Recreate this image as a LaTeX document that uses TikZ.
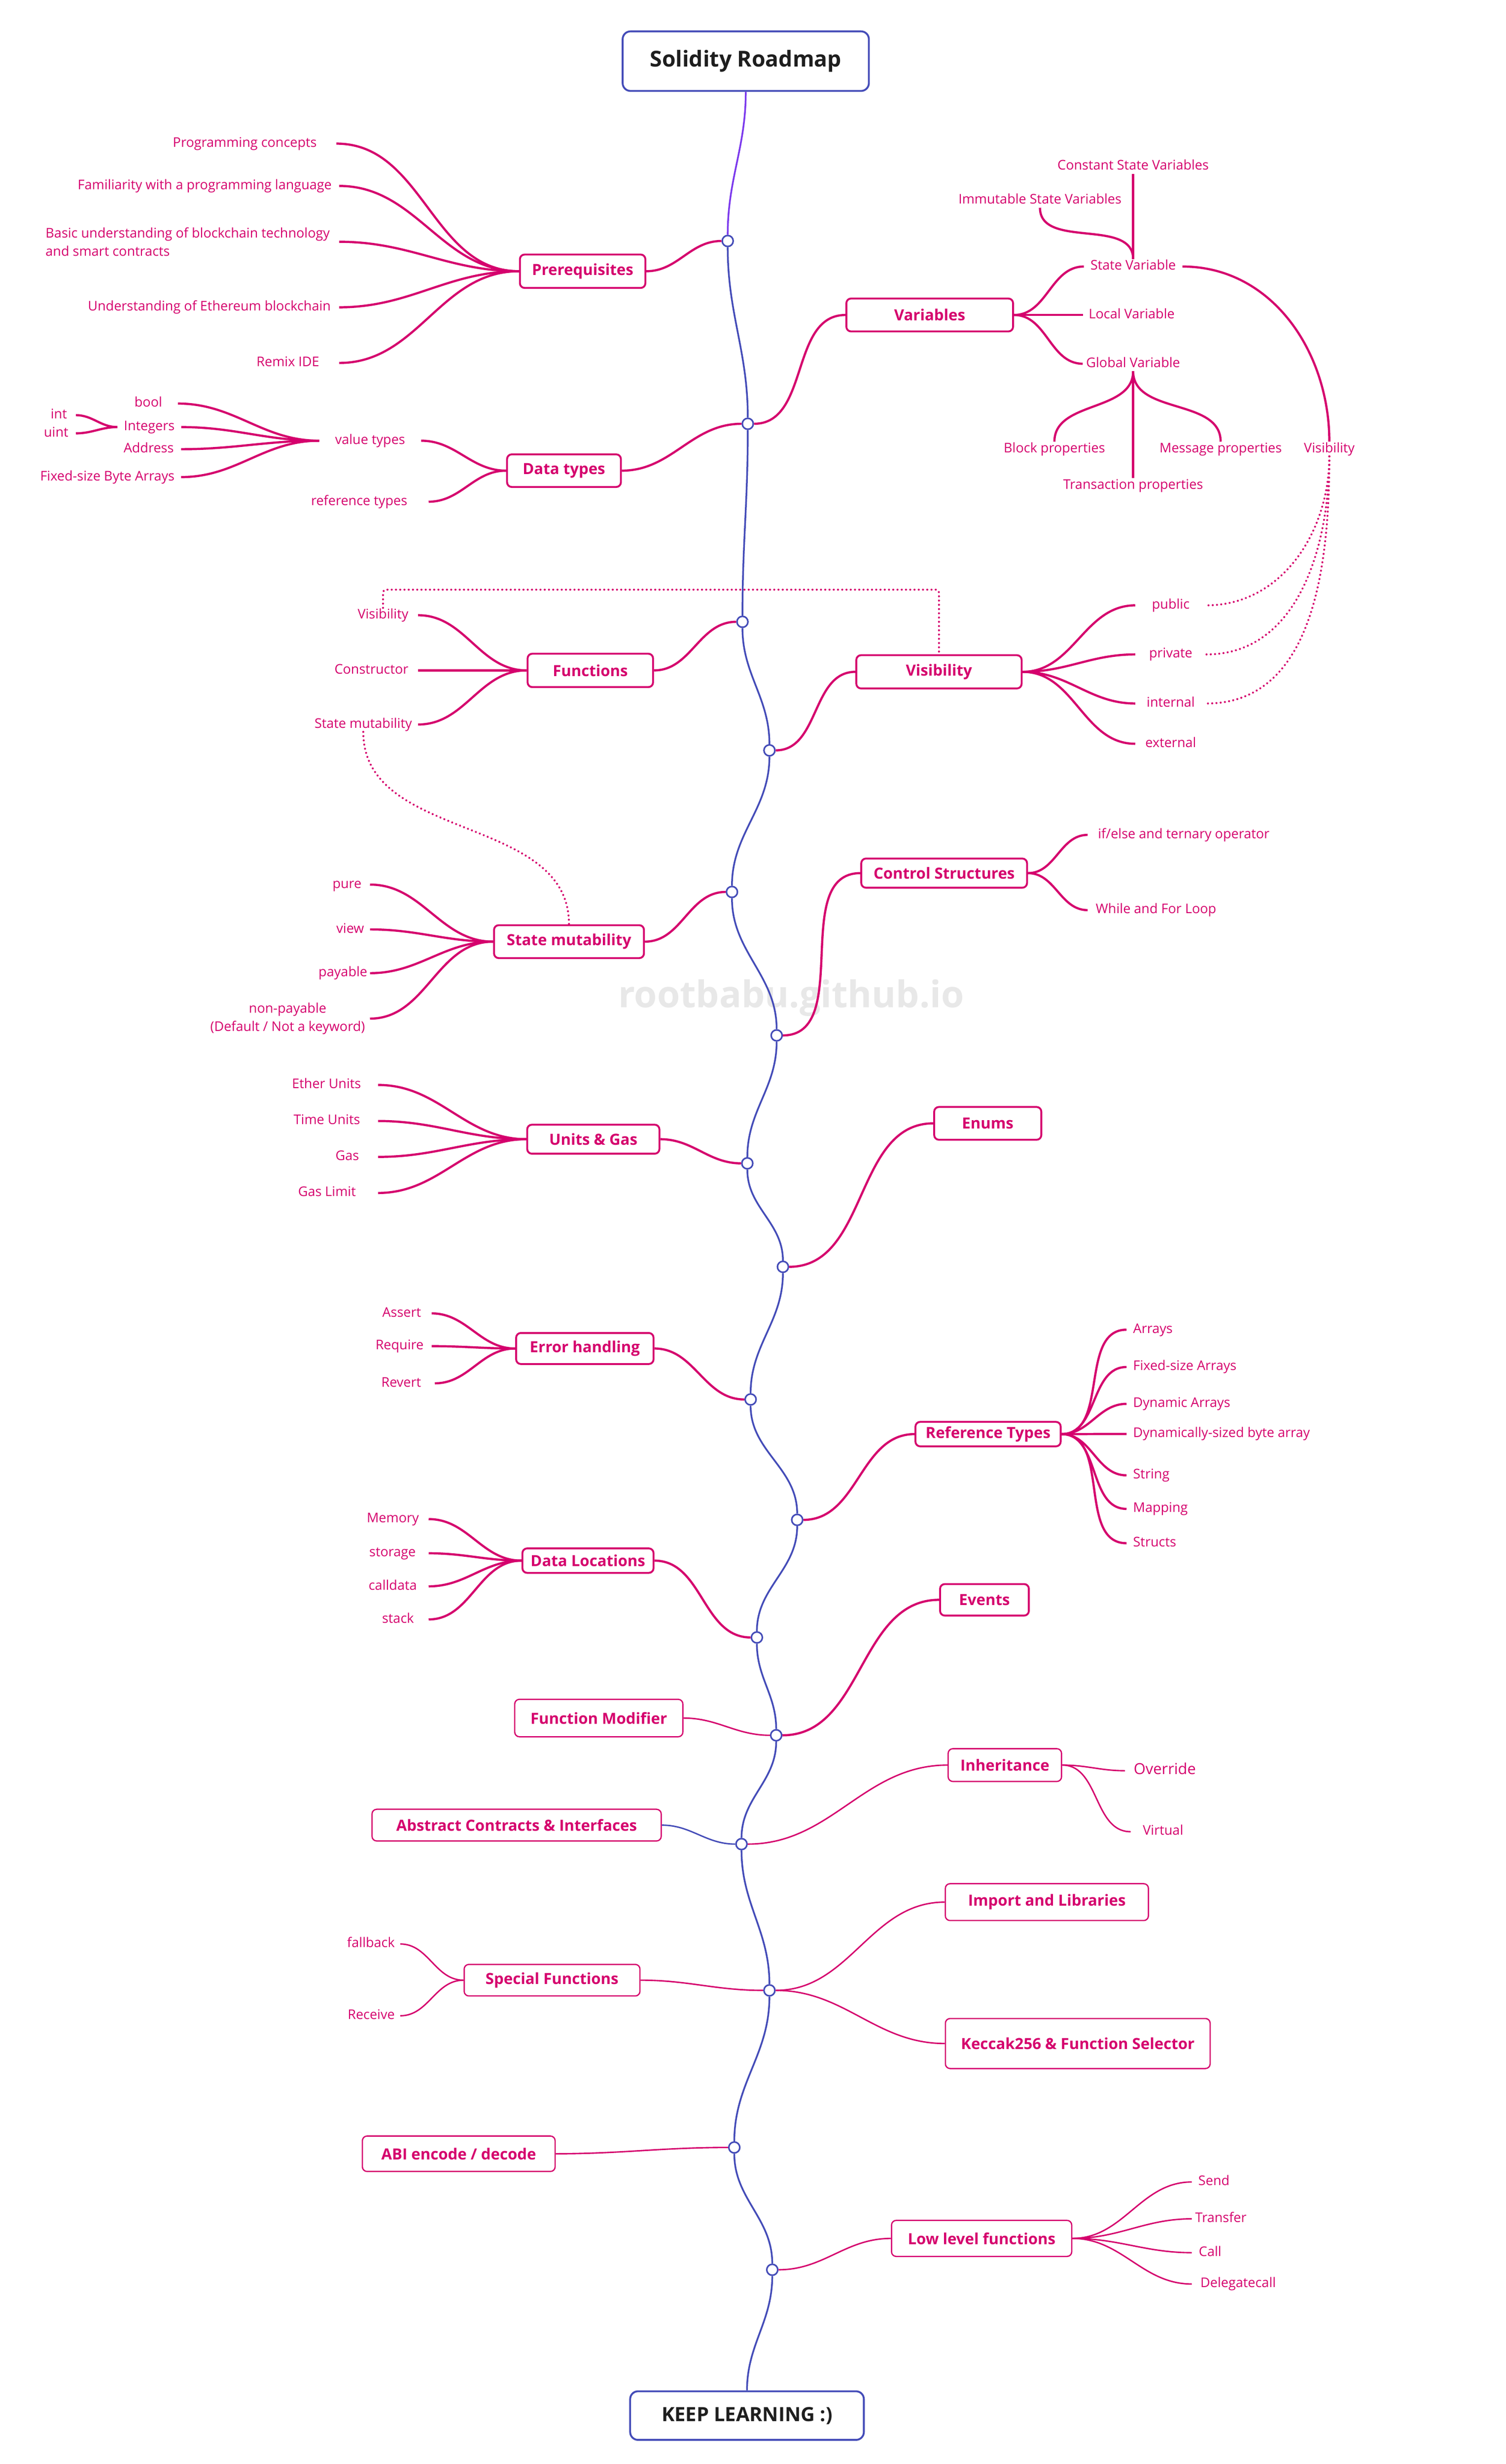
\documentclass[tikz,border=0pt]{standalone}
\usepackage{fontspec}
\setmainfont{Open Sans}
\definecolor{rmpink}{RGB}{213,0,109}
\definecolor{rmblue}{RGB}{68,76,184}
\definecolor{rmviolet}{RGB}{124,58,237}
\definecolor{rmink}{RGB}{30,30,30}
\definecolor{rmmark}{RGB}{232,232,232}
\newcommand{\leafsize}{\fontsize{8.5pt}{11.8pt}\selectfont}
\newcommand{\topicsize}{\fontsize{9.8pt}{12pt}\selectfont\bfseries}
\tikzset{
  leaf/.style={font=\leafsize, text=rmpink, inner ysep=0.5pt, inner xsep=4pt, text height=6.2pt, text depth=1.8pt},
  leafml/.style={font=\leafsize, text=rmpink, inner ysep=0.5pt, inner xsep=4pt},
  topic/.style={draw=rmpink, fill=white, line width=1.2pt, rounded corners=3pt, font=\topicsize, text=rmpink, inner sep=0pt},
  lowtopic/.style={topic, line width=0.8pt},
  endbox/.style={draw=rmblue, fill=white, line width=1.2pt, rounded corners=5pt, text=rmink, inner sep=0pt},
  hub/.style={circle, draw=rmblue, fill=white, line width=1pt, minimum size=7pt, inner sep=0pt},
  twig/.style={draw=rmpink, line width=1.4pt},
  lowtwig/.style={draw=rmpink, line width=0.9pt},
  spineline/.style={draw=rmblue, line width=1.1pt},
  dotlink/.style={draw=rmpink, line width=1.3pt, line cap=round, dash pattern=on 0.01pt off 2.7pt},
}
\begin{document}
\begin{tikzpicture}[x=1pt,y=1pt]
\fill[white] (0,0) rectangle (960,-1571.6);
\useasboundingbox (0,0) rectangle (960,-1571.6);
\node[font=\fontsize{23.5pt}{26pt}\selectfont\bfseries, text=rmmark] (mark) at (504.5,-636.4) {rootbabu.github.io};

% start and end
\node[endbox, minimum width=157pt, minimum height=38pt, font=\fontsize{14pt}{16pt}\selectfont\bfseries] (title) at (475.5,-39) {Solidity Roadmap};
\node[endbox, minimum width=149pt, minimum height=31pt, font=\fontsize{12.5pt}{14pt}\selectfont\bfseries] (keep) at (476.3,-1540.7) {KEEP LEARNING :)};

% hubs on the spine
\node[hub] (c1) at (464,-153.7) {};
\node[hub] (c2) at (476.8,-270.3) {};
\node[hub] (c3) at (473.4,-396.6) {};
\node[hub] (c4) at (490.6,-478.6) {};
\node[hub] (c5) at (466.7,-568.9) {};
\node[hub] (c6) at (495.2,-660.4) {};
\node[hub] (c7) at (476.5,-742) {};
\node[hub] (c8) at (499.2,-808) {};
\node[hub] (c9) at (478.6,-892.6) {};
\node[hub] (c10) at (508.3,-969.4) {};
\node[hub] (c11) at (482.6,-1044.4) {};
\node[hub] (c12) at (494.9,-1106.8) {};
\node[hub] (c13) at (472.8,-1176.2) {};
\node[hub] (c14) at (490.6,-1269.5) {};
\node[hub] (c15) at (468.2,-1369.7) {};
\node[hub] (c16) at (492.4,-1447.7) {};

\draw[spineline, draw=rmviolet] (title) to[out=-90,in=90] (c1);
\foreach \a/\b in {c1/c2,c2/c3,c3/c4,c4/c5,c5/c6,c6/c7,c7/c8,c8/c9,c9/c10,c10/c11,c11/c12,c12/c13,c13/c14,c14/c15,c15/c16,c16/keep}
  \draw[spineline] (\a) to[out=-90,in=90] (\b);

% Prerequisites
\node[topic, minimum width=80pt, minimum height=21.3pt] (prereq) at (371.5,-173) {Prerequisites};
\node[leaf, anchor=east, inner xsep=12.3pt] (pc) at (214.5,-91.6) {Programming concepts};
\node[leaf, anchor=east, inner xsep=4.6pt] (fam) at (216.3,-118.6) {Familiarity with a programming language};
\node[leafml, anchor=east, inner xsep=5.8pt, align=left] (basic) at (216.3,-154.2) {Basic understanding of blockchain technology\\and smart contracts};
\node[leaf, anchor=east, inner xsep=5.2pt] (eth) at (216.3,-196) {Understanding of Ethereum blockchain};
\node[leaf, anchor=east, inner xsep=12.5pt] (remix) at (216.3,-231.5) {Remix IDE};
\draw[twig] (prereq) to[out=0,in=180] (c1);
\foreach \l in {pc,fam,basic,eth,remix}
  \draw[twig] (\l) to[out=0,in=180] (prereq);

% Data types
\node[topic, minimum width=72.6pt, minimum height=20.8pt] (dtypes) at (359.6,-300.2) {Data types};
\node[leaf, inner xsep=10pt] (valt) at (236,-281.1) {value types};
\node[leaf, anchor=east, inner xsep=13.4pt] (reft) at (273.3,-320) {reference types};
\node[leaf, anchor=east, inner xsep=9.8pt] (bool) at (113.4,-257.4) {bool};
\node[leaf] (ints) at (95.2,-272.4) {Integers};
\node[leaf, anchor=east, inner xsep=4.5pt] (addr) at (115.5,-286.5) {Address};
\node[leaf, anchor=east] (fsba) at (115.5,-304.3) {Fixed-size Byte Arrays};
\node[leaf, anchor=east, inner xsep=5.5pt] (int) at (48.4,-264.8) {int};
\node[leaf, anchor=east, inner xsep=4.6pt] (uint) at (48.4,-276.4) {uint};
\draw[twig] (dtypes) to[out=0,in=180] (c2);
\draw[twig] (valt) to[out=0,in=180] (dtypes);
\draw[twig] (reft) to[out=0,in=180] (dtypes);
\foreach \l in {bool,ints,addr,fsba}
  \draw[twig] (\l) to[out=0,in=180] (valt);
\draw[twig] (int) to[out=0,in=180] (ints);
\draw[twig] (uint) to[out=0,in=180] (ints);

% Variables
\node[topic, minimum width=106.3pt, minimum height=21pt] (vars) at (592.8,-200.9) {Variables};
\node[leaf] (statev) at (722.5,-170) {State Variable};
\node[leaf, anchor=west, inner xsep=3.6pt] (localv) at (690.4,-200.9) {Local Variable};
\node[leaf, inner xsep=2pt] (globalv) at (722.5,-232) {Global Variable};
\node[leaf] (constv) at (722.5,-106.1) {Constant State Variables};
\node[leaf] (immv) at (663.1,-127.8) {Immutable State Variables};
\node[leaf] (blockp) at (672.3,-286.4) {Block properties};
\node[leaf] (txp) at (722.5,-309.7) {Transaction properties};
\node[leaf] (msgp) at (778.3,-286.4) {Message properties};
\node[leaf] (visv) at (847.6,-286.4) {Visibility};
\draw[twig] (c2) to[out=0,in=180] (vars);
\foreach \l in {statev,localv,globalv}
  \draw[twig] (vars) to[out=0,in=180] (\l);
\draw[twig] (constv) -- (statev);
\draw[twig] (immv.south) to[out=-90,in=90] (statev.north);
\draw[twig] (globalv.south) to[out=-90,in=90] (blockp.north);
\draw[twig] (globalv) -- (txp);
\draw[twig] (globalv.south) to[out=-90,in=90] (msgp.north);
\draw[twig] (statev) to[out=0,in=90] (visv);

% Functions
\node[topic, minimum width=80pt, minimum height=21.3pt] (funcs) at (376.4,-427.6) {Functions};
\node[leaf, anchor=east, inner xsep=6pt] (visf) at (266.6,-392.4) {Visibility};
\node[leaf, anchor=east, inner xsep=6pt] (ctor) at (266.6,-427.6) {Constructor};
\node[leaf, anchor=east, inner xsep=3.7pt] (smf) at (266.6,-462.1) {State mutability};
\draw[twig] (funcs) to[out=0,in=180] (c3);
\foreach \l in {visf,ctor,smf}
  \draw[twig] (\l) to[out=0,in=180] (funcs);

% Visibility
\node[topic, minimum width=105.4pt, minimum height=21.2pt] (visb) at (598.7,-428.5) {Visibility};
\node[leaf, minimum width=45pt] (pub) at (746.5,-386.1) {public};
\node[leaf, minimum width=45pt] (priv) at (746.5,-417.4) {private};
\node[leaf, minimum width=45pt] (intl) at (746.5,-448.7) {internal};
\node[leaf, minimum width=45pt] (ext) at (746.5,-474.4) {external};
\draw[twig] (c4) to[out=0,in=180] (visb);
\foreach \l in {pub,priv,intl,ext}
  \draw[twig] (visb) to[out=0,in=180] (\l);
\foreach \l in {pub,priv,intl}
  \draw[dotlink] (visv) to[out=-90,in=0] (\l);
\coordinate (vtop) at (598.7,-376.1);
\draw[dotlink, rounded corners=2pt] (visf.north) |- (vtop) -- (visb.north);

% State mutability
\node[topic, minimum width=95.6pt, minimum height=21pt] (smbox) at (362.8,-600.6) {State mutability};
\node[leaf, anchor=east, inner xsep=5.2pt] (pure) at (235.9,-564.2) {pure};
\node[leaf, anchor=east, inner xsep=3.6pt] (view) at (235.9,-592.8) {view};
\node[leaf, anchor=east, inner xsep=1.5pt] (pay) at (235.9,-620.7) {payable};
\node[leafml, anchor=east, inner xsep=3pt, align=center] (nonpay) at (235.9,-649.7) {non-payable\\(Default / Not a keyword)};
\draw[twig] (smbox) to[out=0,in=180] (c5);
\foreach \l in {pure,view,pay,nonpay}
  \draw[twig] (\l) to[out=0,in=180] (smbox);
\draw[dotlink] (smf.south) to[out=-90,in=90] (smbox.north);

% Control Structures
\node[topic, minimum width=105.7pt, minimum height=18.6pt] (ctrl) at (602,-556.9) {Control Structures};
\node[leaf, anchor=west, inner xsep=6.4pt] (ifelse) at (693.5,-532.5) {if/else and ternary operator};
\node[leaf, anchor=west, inner xsep=5pt] (loop) at (693.5,-580.5) {While and For Loop};
\draw[twig] (c6) to[out=0,in=180] (ctrl);
\draw[twig] (ctrl) to[out=0,in=180] (ifelse);
\draw[twig] (ctrl) to[out=0,in=180] (loop);

% Units & Gas
\node[topic, minimum width=84.3pt, minimum height=18.5pt] (units) at (378.3,-726.6) {Units \& Gas};
\node[leaf, anchor=east, inner xsep=10.7pt] (ether) at (241.1,-692) {Ether Units};
\node[leaf, anchor=east, inner xsep=11.3pt] (timeu) at (241.1,-715) {Time Units};
\node[leaf, anchor=east, inner xsep=12pt] (gas) at (241.1,-737.9) {Gas};
\node[leaf, anchor=east, inner xsep=14pt] (gaslim) at (241.1,-760.9) {Gas Limit};
\draw[twig] (units) to[out=0,in=180] (c7);
\foreach \l in {ether,timeu,gas,gaslim}
  \draw[twig] (\l) to[out=0,in=180] (units);

% Enums
\node[topic, minimum width=68.3pt, minimum height=20.9pt] (enums) at (629.8,-716.5) {Enums};
\draw[twig] (c8) to[out=0,in=180] (enums);

% Error handling
\node[topic, minimum width=87.6pt, minimum height=19.8pt] (errh) at (372.9,-860.1) {Error handling};
\node[leaf, anchor=east, inner xsep=6.5pt] (assert) at (275.2,-837.7) {Assert};
\node[leaf, anchor=east, inner xsep=4.9pt] (require) at (275.2,-858.6) {Require};
\node[leaf, anchor=east, inner xsep=8.6pt] (revert) at (277.3,-882.3) {Revert};
\draw[twig] (errh) to[out=0,in=180] (c9);
\foreach \l in {assert,require,revert}
  \draw[twig] (\l) to[out=0,in=180] (errh);

% Reference Types
\node[topic, minimum width=92.6pt, minimum height=15.6pt] (reftb) at (630,-914.7) {Reference Types};
\node[leaf, anchor=west] (arrays) at (718.3,-848.1) {Arrays};
\node[leaf, anchor=west] (fixarr) at (718.3,-871.9) {Fixed-size Arrays};
\node[leaf, anchor=west] (dynarr) at (718.3,-895.4) {Dynamic Arrays};
\node[leaf, anchor=west] (dynbytes) at (718.3,-914.6) {Dynamically-sized byte array};
\node[leaf, anchor=west] (string) at (718.3,-941) {String};
\node[leaf, anchor=west] (mapping) at (718.3,-962.4) {Mapping};
\node[leaf, anchor=west] (structs) at (718.3,-984.3) {Structs};
\draw[twig] (c10) to[out=0,in=180] (reftb);
\foreach \l in {arrays,fixarr,dynarr,dynbytes,string,mapping,structs}
  \draw[twig] (reftb) to[out=0,in=180] (\l);

% Data Locations
\node[topic, minimum width=83.6pt, minimum height=15.6pt] (dataloc) at (374.9,-995.4) {Data Locations};
\node[leaf, anchor=east, inner xsep=6pt] (memory) at (273.3,-968.9) {Memory};
\node[leaf, anchor=east, inner xsep=8pt] (storage) at (273.3,-990.7) {storage};
\node[leaf, anchor=east, inner xsep=7.3pt] (calldata) at (273.3,-1011.8) {calldata};
\node[leaf, anchor=east, inner xsep=9.2pt] (stack) at (273.3,-1032.9) {stack};
\draw[twig] (dataloc) to[out=0,in=180] (c11);
\foreach \l in {memory,storage,calldata,stack}
  \draw[twig] (\l) to[out=0,in=180] (dataloc);

% Events and Function Modifier
\node[topic, minimum width=56.6pt, minimum height=20.1pt] (events) at (627.7,-1020.4) {Events};
\node[lowtopic, minimum width=107.2pt, minimum height=23.9pt] (fmod) at (381.8,-1095.8) {Function Modifier};
\draw[twig] (c12) to[out=0,in=180] (events);
\draw[lowtwig] (fmod) to[out=0,in=180] (c12);

% Abstract Contracts and Inheritance
\node[lowtopic, minimum width=184.4pt, minimum height=20.2pt] (abstr) at (329.4,-1164.1) {Abstract Contracts \& Interfaces};
\node[lowtopic, minimum width=72.3pt, minimum height=20.9pt] (inher) at (640.7,-1125.8) {Inheritance};
\node[leaf, anchor=west, inner xsep=5.4pt, font=\fontsize{9.7pt}{12pt}\selectfont] (override) at (717.3,-1129.4) {Override};
\node[leaf, anchor=west, inner xsep=7.6pt] (virtual) at (720.9,-1168.3) {Virtual};
\draw[lowtwig, draw=rmblue] (abstr) to[out=0,in=180] (c13);
\draw[lowtwig] (c13) to[out=0,in=180] (inher);
\draw[lowtwig] (inher) to[out=0,in=180] (override);
\draw[lowtwig] (inher) to[out=0,in=180] (virtual);

% Special Functions, Import and Libraries, Keccak256
\node[lowtopic, minimum width=112.1pt, minimum height=20.1pt] (special) at (352,-1263) {Special Functions};
\node[leaf, anchor=east, inner xsep=3.3pt] (fallback) at (255.2,-1239.9) {fallback};
\node[leaf, anchor=east, inner xsep=3.3pt] (receive) at (255.2,-1285.7) {Receive};
\node[lowtopic, minimum width=129.5pt, minimum height=23.5pt] (import) at (667.5,-1213.2) {Import and Libraries};
\node[lowtopic, minimum width=168.8pt, minimum height=31.9pt] (keccak) at (687.2,-1303.4) {Keccak256 \& Function Selector};
\draw[lowtwig] (special) to[out=0,in=180] (c14);
\draw[lowtwig] (fallback) to[out=0,in=180] (special);
\draw[lowtwig] (receive) to[out=0,in=180] (special);
\draw[lowtwig] (c14) to[out=0,in=180] (import);
\draw[lowtwig] (c14) to[out=0,in=180] (keccak);

% ABI encode / decode
\node[lowtopic, minimum width=122.9pt, minimum height=22.6pt] (abi) at (292.5,-1373.7) {ABI encode / decode};
\draw[lowtwig] (abi) to[out=0,in=180] (c15);

% Low level functions
\node[lowtopic, minimum width=114.9pt, minimum height=23pt] (lowlvl) at (625.9,-1427.7) {Low level functions};
\node[leaf, anchor=west] (send) at (759.9,-1391.7) {Send};
\node[leaf, anchor=west, inner xsep=2pt] (transfer) at (759.9,-1415.2) {Transfer};
\node[leaf, anchor=west, inner xsep=4.3pt] (call) at (759.9,-1436.8) {Call};
\node[leaf, anchor=west, inner xsep=5.3pt] (delegate) at (759.9,-1456.8) {Delegatecall};
\draw[lowtwig] (c16) to[out=0,in=180] (lowlvl);
\foreach \l in {send,transfer,call,delegate}
  \draw[lowtwig] (lowlvl) to[out=0,in=180] (\l);
\end{tikzpicture}
\end{document}
